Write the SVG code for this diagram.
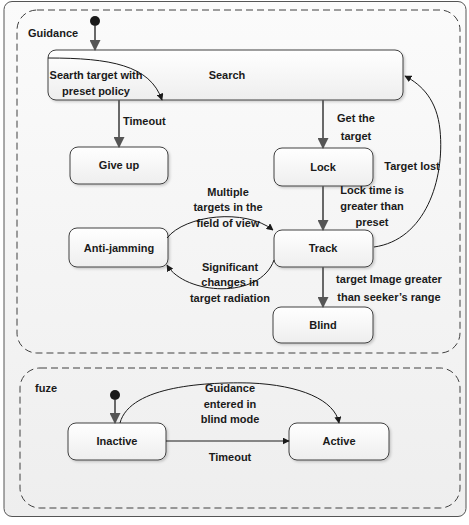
<svg xmlns="http://www.w3.org/2000/svg" width="469" height="525" viewBox="0 0 469 525">
<defs>
<linearGradient id="bg" x1="0" y1="0" x2="0" y2="1"><stop offset="0" stop-color="#fbfbfb"/><stop offset="1" stop-color="#eeeeee"/></linearGradient>
<linearGradient id="nodeg" x1="0" y1="0" x2="0" y2="1"><stop offset="0" stop-color="#ffffff"/><stop offset="1" stop-color="#eeeeee"/></linearGradient>
<marker id="ah" viewBox="0 0 10 10" refX="9" refY="5" markerWidth="7" markerHeight="7" orient="auto-start-reverse" markerUnits="userSpaceOnUse"><path d="M0,0 L10,5 L0,10 z" fill="#1a1a1a"/></marker>
<marker id="ahg" viewBox="0 0 10 10" refX="9" refY="5" markerWidth="11" markerHeight="11" orient="auto" markerUnits="userSpaceOnUse"><path d="M0,0 L10,5 L0,10 z" fill="#555555"/></marker>
<filter id="sh" x="-10%" y="-10%" width="130%" height="140%"><feDropShadow dx="1.5" dy="1.5" stdDeviation="1" flood-color="#000" flood-opacity="0.18"/></filter>
</defs>
<style>
text{font-family:"Liberation Sans",Arial,sans-serif;font-weight:bold;font-size:11px;fill:#1a1a1a;text-anchor:middle}
.l{text-anchor:start}
.node{fill:url(#nodeg);stroke:#404040;stroke-width:1;filter:url(#sh)}
.frame{fill:none;stroke:#404040;stroke-width:1;stroke-dasharray:7,4}
.main{stroke:#595959;stroke-width:1.8;fill:none;marker-end:url(#ahg)}
.thin{stroke:#1a1a1a;stroke-width:1;fill:none;marker-end:url(#ah)}
</style>
<rect x="4" y="1.5" width="462" height="515" rx="8" fill="url(#bg)" stroke="#555" stroke-width="1"/>
<g id="guidance">
<rect class="frame" x="17" y="10" width="443" height="343" rx="20"/>
<text class="l" x="28" y="37">Guidance</text>
</g>
<g id="fuze">
<rect class="frame" x="20" y="368" width="440" height="140" rx="20"/>
<text class="l" x="35" y="392">fuze</text>
</g>
<g id="init1"><circle cx="95" cy="21" r="5" fill="#1a1a1a"/></g>
<g id="init2"><circle cx="115" cy="395" r="5" fill="#1a1a1a"/></g>
<g id="search"><rect class="node" x="48" y="50" width="355" height="50" rx="8"/><text x="227" y="79">Search</text></g>
<g id="giveup"><rect class="node" x="70" y="147" width="98" height="37" rx="8"/><text x="119" y="169">Give up</text></g>
<g id="lock"><rect class="node" x="274" y="148" width="99" height="38" rx="8"/><text x="323" y="171">Lock</text></g>
<g id="track"><rect class="node" x="274" y="230" width="99" height="37" rx="8"/><text x="323" y="252">Track</text></g>
<g id="antijamming"><rect class="node" x="69" y="228" width="99" height="39" rx="8"/><text x="119" y="252">Anti-jamming</text></g>
<g id="blind"><rect class="node" x="273" y="307" width="100" height="36" rx="8"/><text x="323" y="329">Blind</text></g>
<g id="inactive"><rect class="node" x="68" y="423" width="98" height="37" rx="8"/><text x="117" y="445">Inactive</text></g>
<g id="active"><rect class="node" x="289" y="423" width="100" height="37" rx="8"/><text x="339" y="445">Active</text></g>
<g id="connectors">
<path class="main" d="M95,26 L95,50"/>
<path class="main" d="M119,100 L119,147"/>
<path class="main" d="M323,100 L323,148"/>
<path class="main" d="M323,186 L323,230"/>
<path class="main" d="M323,267 L323,307"/>
<path class="main" d="M115,400 L115,423"/>
<path class="thin" d="M48,58 C110,58 150,65 162,100"/>
<path class="thin" d="M374,247 C425,240 445,180 440,130 C437,100 422,85 405,76"/>
<path class="thin" d="M167,238 C185,215 245,208 273,230"/>
<path class="thin" d="M274,260 C260,300 185,295 167,265"/>
<path class="thin" d="M166,441 L289,441"/>
<path class="thin" d="M120,423 C130,385 210,382 250,383 C300,385 335,400 339,423"/>
</g>
<g id="labels">
<text x="96" y="79">Searth target with</text>
<text x="96" y="95">preset policy</text>
<text class="l" x="123" y="125">Timeout</text>
<text x="356" y="122">Get the</text>
<text x="356" y="140">target</text>
<text x="412" y="170">Target lost</text>
<text x="372" y="194">Lock time is</text>
<text x="372" y="210">greater than</text>
<text x="372" y="226">preset</text>
<text x="228" y="196">Multiple</text>
<text x="228" y="211">targets in the</text>
<text x="228" y="227">field of view</text>
<text x="230" y="271">Significant</text>
<text x="230" y="286">changes in</text>
<text x="230" y="302">target radiation</text>
<text x="389" y="283">target Image greater</text>
<text x="389" y="301">than seeker’s range</text>
<text x="230" y="392">Guidance</text>
<text x="230" y="408">entered in</text>
<text x="230" y="423">blind mode</text>
<text x="230" y="461">Timeout</text>
</g>
</svg>
